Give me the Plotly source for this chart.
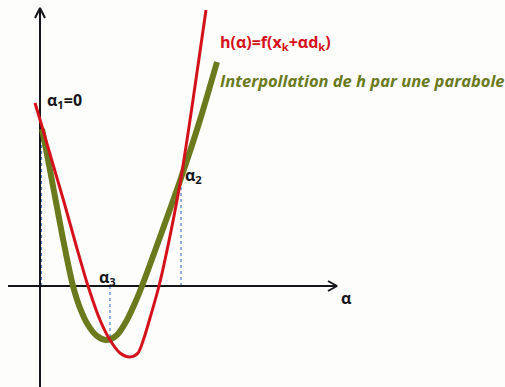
import numpy as np
import plotly.graph_objects as go

# h(alpha) = f(x_k + alpha d_k), sampled along the search direction
h_alpha = [-0.05, 0.01, 0.12, 0.24, 0.36, 0.48, 0.60, 0.70, 0.80, 0.90,
           0.98, 1.04, 1.10, 1.19, 1.30, 1.41, 1.53, 1.66]
h_value = [1.83, 1.63, 1.25, 0.84, 0.41, 0.00, -0.34, -0.54, -0.67, -0.71,
           -0.67, -0.52, -0.32, 0.00, 0.50, 1.08, 1.86, 2.76]

# parabola interpolating h at alpha_1 and alpha_2
p_alpha = [0.02, 0.10, 0.19, 0.26, 0.33, 0.40, 0.48, 0.57, 0.67, 0.77,
           0.87, 0.95, 1.02, 1.20, 1.41, 1.60, 1.77]
p_value = [1.57, 1.16, 0.68, 0.32, 0.00, -0.22, -0.39, -0.50, -0.54, -0.49,
           -0.34, -0.17, 0.00, 0.49, 1.08, 1.66, 2.24]

# step lengths marked on the alpha axis
alpha_1 = 0.015
alpha_2 = 1.41
alpha_3 = 0.70

RED = "#d4121c"
OLIVE = "#6a7a1c"
AXIS = "#15161c"
DASH = "#4f7fc4"

fig = go.Figure()

# dotted guides from the alpha axis up/down to the curves
for a in (alpha_1, alpha_2, alpha_3):
    yv = float(np.interp(a, p_alpha, p_value))
    fig.add_trace(go.Scatter(x=[a, a], y=[0, yv], mode="lines",
                             line=dict(color=DASH, width=1.2, dash="dot"),
                             hoverinfo="skip", showlegend=False))

# coordinate axes with open arrowheads
fig.add_trace(go.Scatter(x=[-0.32, 2.97], y=[0, 0], mode="lines",
                         line=dict(color=AXIS, width=2), showlegend=False))
fig.add_trace(go.Scatter(x=[2.88, 2.97, 2.88], y=[0.05, 0, -0.05], mode="lines",
                         line=dict(color=AXIS, width=2), showlegend=False))
fig.add_trace(go.Scatter(x=[0, 0], y=[-1.05, 2.78], mode="lines",
                         line=dict(color=AXIS, width=2), showlegend=False))
fig.add_trace(go.Scatter(x=[-0.05, 0, 0.05], y=[2.68, 2.78, 2.68], mode="lines",
                         line=dict(color=AXIS, width=2), showlegend=False))

# curves
fig.add_trace(go.Scatter(x=p_alpha, y=p_value, mode="lines",
                         line=dict(color=OLIVE, width=6, shape="spline", smoothing=0.8),
                         showlegend=False))
fig.add_trace(go.Scatter(x=h_alpha, y=h_value, mode="lines",
                         line=dict(color=RED, width=3, shape="spline", smoothing=0.8),
                         showlegend=False))

FONT = "Open Sans"
labels = [
    (0.05, 1.86, "α<sub>1</sub>=0", AXIS, "normal", 16),
    (1.43, 1.11, "α<sub>2</sub>", AXIS, "normal", 16),
    (0.57, 0.09, "α<sub>3</sub>", AXIS, "normal", 16),
    (2.99, -0.12, "α", AXIS, "normal", 16),
    (1.78, 2.44, "h(α)=f(x<sub>k</sub>+αd<sub>k</sub>)", RED, "normal", 16),
    (1.78, 2.06, "Interpollation de h par une parabole", OLIVE, "italic", 16.5),
]
for x, y, t, c, st, sz in labels:
    fig.add_annotation(x=x, y=y, text=t, showarrow=False, xanchor="left",
                       yanchor="middle",
                       font=dict(family=FONT, size=sz, color=c, weight="bold", style=st))

fig.update_layout(
    width=505, height=387,
    margin=dict(l=0, r=0, t=0, b=0),
    paper_bgcolor="#fdfdfb", plot_bgcolor="#fdfdfb",
    xaxis=dict(range=[-0.40, 4.65], visible=False, fixedrange=True),
    yaxis=dict(range=[-1.01, 2.86], visible=False, fixedrange=True),
    showlegend=False,
)

fig.write_html("out.html")
